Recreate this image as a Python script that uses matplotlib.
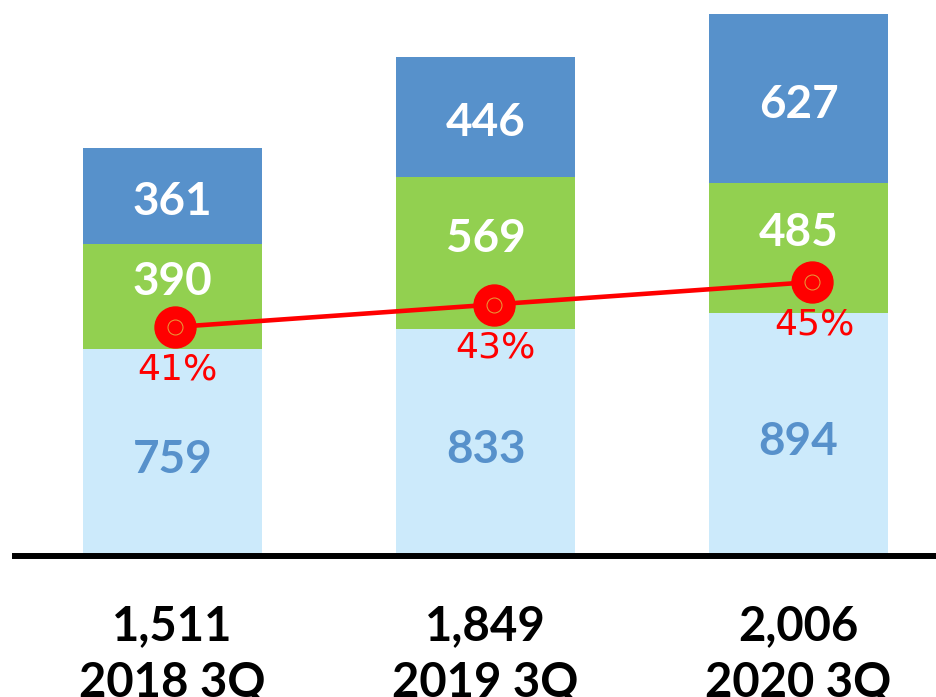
import matplotlib
matplotlib.use("Agg")
import matplotlib.pyplot as plt

categories = ["2018 3Q", "2019 3Q", "2020 3Q"]
totals = ["1,511", "1,849", "2,006"]
bottom_vals = [759, 833, 894]
middle_vals = [390, 569, 485]
top_vals = [361, 446, 627]
pct_vals = [41, 43, 45]
pct_labels = ["41%", "43%", "45%"]

C_LIGHT = "#CCEAFB"
C_GREEN = "#92D050"
C_BLUE = "#5791CB"
C_RED = "#FF0000"

plt.rcParams['font.family'] = ['Lato', 'DejaVu Sans']

W, H = 936, 697
fig = plt.figure(figsize=(W / 100, H / 100), dpi=100)
ax_rect = [15 / W, (H - 553) / H, (W - 15) / W, 553 / H]
ax = fig.add_axes(ax_rect)

x = list(range(len(categories)))
width = 0.572
mid_bottom = bottom_vals
top_bottom = [a + b for a, b in zip(bottom_vals, middle_vals)]

ax.bar(x, bottom_vals, width, color=C_LIGHT, zorder=2)
ax.bar(x, middle_vals, width, bottom=mid_bottom, color=C_GREEN, zorder=2)
ax.bar(x, top_vals, width, bottom=top_bottom, color=C_BLUE, zorder=2)

ax.set_xlim(-0.5032, 2.4393)
ax.set_ylim(0, 2059.6)
for s in ["top", "right", "left"]:
    ax.spines[s].set_visible(False)
ax.spines["bottom"].set_linewidth(4.3)
ax.spines["bottom"].set_color("black")
ax.spines["bottom"].set_position(("outward", 2.2))
ax.set_xticks([])
ax.set_yticks([])

label_fs = 33
for i in x:
    c_b = bottom_vals[i] / 2
    c_m = mid_bottom[i] + middle_vals[i] / 2
    c_t = top_bottom[i] + top_vals[i] / 2
    ax.annotate(f"{bottom_vals[i]}", (i, c_b), xytext=(0, -16), textcoords="offset points",
                ha="center", va="baseline", fontsize=label_fs, fontweight="bold", color=C_BLUE, zorder=5)
    ax.annotate(f"{middle_vals[i]}", (i, c_m), xytext=(0, 1), textcoords="offset points",
                ha="center", va="baseline", fontsize=label_fs, fontweight="bold", color="white", zorder=5)
    ax.annotate(f"{top_vals[i]}", (i, c_t), xytext=(0, -14), textcoords="offset points",
                ha="center", va="baseline", fontsize=label_fs, fontweight="bold", color="white", zorder=5)
    ax.annotate(totals[i], (i, 0), xycoords=("data", "axes fraction"), xytext=(0, -62.6),
                textcoords="offset points", ha="center", va="baseline", fontsize=34,
                fontweight="bold", color="black", annotation_clip=False)
    ax.annotate(categories[i], (i, 0), xycoords=("data", "axes fraction"), xytext=(0, -103),
                textcoords="offset points", ha="center", va="baseline", fontsize=34,
                fontweight="bold", color="black", annotation_clip=False)

ax2 = fig.add_axes(ax_rect)
ax2.patch.set_visible(False)
ax2.set_xlim(-0.5024, 2.3893)
ax2.set_ylim(20.91, 70.07)
ax2.axis("off")
ax2.plot(x, pct_vals, color=C_RED, lw=3.3, zorder=3)
ax2.plot(x, pct_vals, "o", ms=29.5, mfc=C_RED, mec=C_RED, zorder=4)
ax2.plot(x, pct_vals, "o", ms=10.8, mfc="none", mec="#E6A23C", mew=0.7, zorder=5)
for i in x:
    ax2.annotate(pct_labels[i], (i, pct_vals[i]), xytext=(1.5, -38), textcoords="offset points",
                 ha="center", va="baseline", fontsize=26, color=C_RED,
                 family=["DejaVu Sans"], zorder=6)

fig.savefig("out.png", dpi=100)
